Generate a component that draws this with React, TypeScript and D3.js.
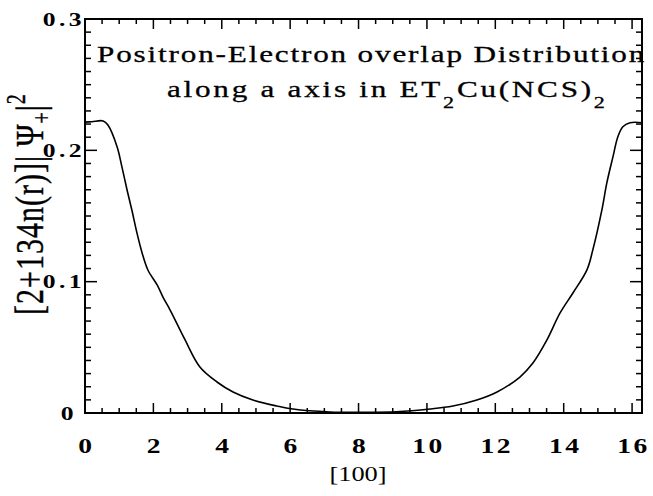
import React from "react";
import * as d3 from "d3";

const xs = [0, 0.2, 0.53, 0.67, 0.94, 1.08, 1.23, 1.37, 1.52, 1.67, 1.84, 2.11, 2.28, 2.49, 2.92, 3.36, 3.86, 4.33, 4.91, 5.61, 6.08, 7.16, 8.15, 9.1, 10.09, 10.76, 11.46, 12.05, 12.72, 13.1, 13.51, 13.89, 14.27, 14.68, 14.85, 15.12, 15.26, 15.44, 15.58, 15.73, 15.94, 16.29];
const ys = [0.2215, 0.2218, 0.2224, 0.2193, 0.2026, 0.1874, 0.1698, 0.1546, 0.137, 0.1219, 0.1089, 0.0975, 0.0883, 0.0784, 0.056, 0.035, 0.0236, 0.016, 0.0099, 0.0053, 0.003, 0.0008, 0.0005, 0.0009, 0.003, 0.0053, 0.0099, 0.016, 0.0274, 0.038, 0.0556, 0.076, 0.0914, 0.109, 0.124, 0.155, 0.175, 0.195, 0.21, 0.218, 0.221, 0.221];
const xTickVals = [0, 2, 4, 6, 8, 10, 12, 14, 16];
const yTickVals = [0, 0.1, 0.2, 0.3];
const yTickLabels = ["0", "0.1", "0.2", "0.3"];
const titleLine1 = "Positron-Electron overlap Distribution";
const xLabel = "[100]";

const W = 653, H = 496;
const L = 85, R = 642, T = 19, B = 413;
const SX = 1.3;

export default function App() {
  const x = d3.scaleLinear().domain([0, 16.29]).range([L, R]);
  const y = d3.scaleLinear().domain([0, 0.3]).range([B, T]);
  const pts = xs.map((v, i) => [v, ys[i]] as [number, number]);
  const line = d3.line<[number, number]>().x(d => x(d[0])).y(d => y(d[1])).curve(d3.curveCatmullRom.alpha(0.5));
  const xMinor = d3.range(0, 16.3, 0.5);
  const yMinor = d3.range(0, 0.3001, 0.01);
  const font = "'Liberation Serif', 'Times New Roman', serif";
  return (
    <svg width={W} height={H} style={{ position: "absolute", left: 0, top: 0 }} fontFamily={font}>
      <rect x={0} y={0} width={W} height={H} fill="#fff" />
      <path d={line(pts) || ""} fill="none" stroke="#000" strokeWidth={1.6} />
      {xMinor.map((v, i) => {
        const major = Math.abs(v % 2) < 1e-6;
        const len = major ? 10 : 5;
        return (
          <g key={"xt" + i}>
            <line x1={x(v)} x2={x(v)} y1={B} y2={B - len} stroke="#000" strokeWidth={1.5} />
            <line x1={x(v)} x2={x(v)} y1={T} y2={T + len} stroke="#000" strokeWidth={1.5} />
          </g>
        );
      })}
      {yMinor.map((v, i) => {
        const major = i % 10 === 0;
        const len = major ? 12 : 6;
        return (
          <g key={"yt" + i}>
            <line x1={L} x2={L + len} y1={y(v)} y2={y(v)} stroke="#000" strokeWidth={1.5} />
            <line x1={R} x2={R - len} y1={y(v)} y2={y(v)} stroke="#000" strokeWidth={1.5} />
          </g>
        );
      })}
      <g transform={`translate(97,62) scale(${SX},1)`}>
        <text x={0} y={0} fontSize={24} letterSpacing={1.4} stroke="#000" strokeWidth={0.3}>{titleLine1}</text>
      </g>
      <g transform={`translate(167,97) scale(${SX},1)`}>
        <text x={0} y={0} fontSize={24} letterSpacing={2.1} stroke="#000" strokeWidth={0.3}>
          along a axis in ET<tspan fontSize={17} dy={11}>2</tspan><tspan dy={-11}>Cu(NCS)</tspan><tspan fontSize={17} dy={11}>2</tspan>
        </text>
      </g>
      <rect x={L} y={T} width={R - L} height={B - T} fill="none" stroke="#000" strokeWidth={2} />
      {yTickVals.map((v, i) => (
        <g key={"yl" + i} transform={`translate(${v === 0 ? 77 : 85},${y(v) + 6.5}) scale(1.35,1)`}>
          <text x={0} y={0} textAnchor="end" fontSize={19} fontWeight="bold" letterSpacing={2.5}>{yTickLabels[i]}</text>
        </g>
      ))}
      {xTickVals.map((v, i) => (
        <g key={"xl" + i} transform={`translate(${x(v) + 1.5},453) scale(1.25,1)`}>
          <text x={0} y={0} textAnchor="middle" fontSize={22} fontWeight="bold" letterSpacing={2}>{String(v)}</text>
        </g>
      ))}
      <g transform={`translate(358,481) scale(1.2,1)`}>
        <text x={0} y={0} textAnchor="middle" fontSize={22}>{xLabel}</text>
      </g>
      <g transform="translate(43,204) rotate(-90) scale(1,1.35)">
        <text x={0} y={0} textAnchor="middle" fontSize={30} letterSpacing={1} stroke="#000" strokeWidth={0.3}>
          [2+134n(r)]|  Ψ<tspan fontSize={20} dy={6}>+</tspan><tspan dy={-6}>|</tspan><tspan fontSize={20} dy={-13}>2</tspan>
        </text>
      </g>
    </svg>
  );
}
